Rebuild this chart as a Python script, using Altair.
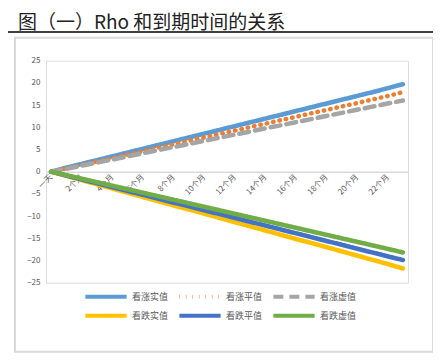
import altair as alt
import pandas as pd

# ---- data ----
months = ["一天", "1个月", "2个月", "3个月", "4个月", "5个月", "6个月", "7个月",
          "8个月", "9个月", "10个月", "11个月", "12个月", "13个月", "14个月", "15个月",
          "16个月", "17个月", "18个月", "19个月", "20个月", "21个月", "22个月", "23个月"]
tick_labels = ["一天", "2个月", "4个月", "6个月", "8个月", "10个月", "12个月",
               "14个月", "16个月", "18个月", "20个月", "22个月"]
series = ["看涨实值", "看涨平值", "看涨虚值", "看跌实值", "看跌平值", "看跌虚值"]

call_itm = [0, 0.9, 1.75, 2.6, 3.45, 4.3, 5.15, 6.0, 6.85, 7.7, 8.55, 9.4,
            10.25, 11.1, 11.95, 12.8, 13.65, 14.5, 15.35, 16.2, 17.05, 17.9, 18.8, 19.7]
call_atm = [0, 0.75, 1.5, 2.3, 3.05, 3.85, 4.6, 5.4, 6.15, 6.95, 7.7, 8.5,
            9.25, 10.05, 10.8, 11.6, 12.35, 13.15, 13.9, 14.7, 15.45, 16.25, 17.05, 17.9]
call_otm = [0, 0.65, 1.35, 2.05, 2.75, 3.45, 4.15, 4.85, 5.55, 6.25, 6.95, 7.65,
            8.35, 9.05, 9.75, 10.45, 11.15, 11.85, 12.55, 13.25, 13.95, 14.65, 15.35, 16.05]
put_itm = [0, -0.95, -1.9, -2.85, -3.8, -4.75, -5.7, -6.65, -7.6, -8.5, -9.45, -10.4,
           -11.35, -12.3, -13.25, -14.2, -15.15, -16.05, -17.0, -17.95, -18.9, -19.85, -20.8, -21.8]
put_atm = [0, -0.87, -1.74, -2.6, -3.47, -4.34, -5.2, -6.07, -6.94, -7.8, -8.67, -9.54,
           -10.4, -11.27, -12.14, -13.0, -13.87, -14.74, -15.6, -16.47, -17.34, -18.2, -19.07, -19.9]
put_otm = [0, -0.79, -1.58, -2.37, -3.16, -3.95, -4.74, -5.53, -6.32, -7.11, -7.9, -8.69,
           -9.48, -10.27, -11.06, -11.85, -12.64, -13.43, -14.22, -15.01, -15.8, -16.59, -17.38, -18.2]
y_ticks = [-25, -20, -15, -10, -5, 0, 5, 10, 15, 20, 25]
title_text = "图（一）Rho 和到期时间的关系"

colors = ["#5B9BD5", "#ED7D31", "#A5A5A5", "#FFC000", "#4472C4", "#70AD47"]
dashes = [[1, 0], [0.5, 6], [10, 6], [1, 0], [1, 0], [1, 0]]

values = [call_itm, call_atm, call_otm, put_itm, put_atm, put_otm]
rows = []
for name, vals in zip(series, values):
    for m, v in zip(months, vals):
        rows.append({"期限": m, "值": v, "系列": name})
df = pd.DataFrame(rows)

FONT = "Noto Sans CJK SC"
W, H = 362, 222

legend = alt.Legend(
    orient="none", legendX=37, legendY=230.5, columns=3, direction="horizontal",
    title=None, symbolType="stroke", symbolSize=1700, symbolStrokeWidth=4,
    labelFontSize=9, labelColor="#595959", labelFont=FONT,
    columnPadding=8, rowPadding=8, labelOffset=3, clipHeight=11,
)

lines = alt.Chart(df).mark_line(strokeWidth=4.5, strokeCap="round", clip=False).encode(
    x=alt.X("期限:N", sort=months,
            scale=alt.Scale(type="point", padding=0.33),
            axis=alt.Axis(values=tick_labels, labelAngle=-45, labelFontSize=8,
                          labelColor="#595959", labelFont=FONT, ticks=False,
                          domainColor="#d9d9d9", domainWidth=1.5, offset=-111,
                          title=None, labelAlign="right", labelBaseline="middle",
                          labelPadding=4, grid=False)),
    y=alt.Y("值:Q", scale=alt.Scale(domain=[-25, 25], nice=False),
            axis=alt.Axis(values=y_ticks, grid=False, domain=False, ticks=False,
                          labelFontSize=8, labelColor="#595959", labelFont=FONT,
                          labelPadding=6, title=None)),
    color=alt.Color("系列:N", sort=series,
                    scale=alt.Scale(domain=series, range=colors), legend=legend),
    strokeDash=alt.StrokeDash("系列:N", sort=series,
                              scale=alt.Scale(domain=series, range=dashes), legend=legend),
)

dummy = pd.DataFrame({"a": [0]})
box = alt.Chart(dummy).mark_rect(fillOpacity=0, stroke="#d9d9d9", strokeWidth=2).encode(
    x=alt.value(-31), x2=alt.value(387), y=alt.value(-23), y2=alt.value(291))
rule = alt.Chart(dummy).mark_rule(color="black", strokeWidth=1.5).encode(
    x=alt.value(-38), x2=alt.value(391), y=alt.value(-28.7))
title = alt.Chart(dummy).mark_text(align="left", baseline="middle", fontSize=19,
                                   font=FONT, color="#222222").encode(
    x=alt.value(-28), y=alt.value(-38.2), text=alt.value(title_text))

chart = alt.layer(box, rule, title, lines).properties(
    width=W, height=H,
    padding={"left": 38, "top": 52.7, "right": 25, "bottom": 70.3},
    autosize=alt.AutoSizeParams(type="none"),
).configure_view(stroke=None).configure(font=FONT)

chart.save("out.html", embed_options={"renderer": "svg", "actions": False})
